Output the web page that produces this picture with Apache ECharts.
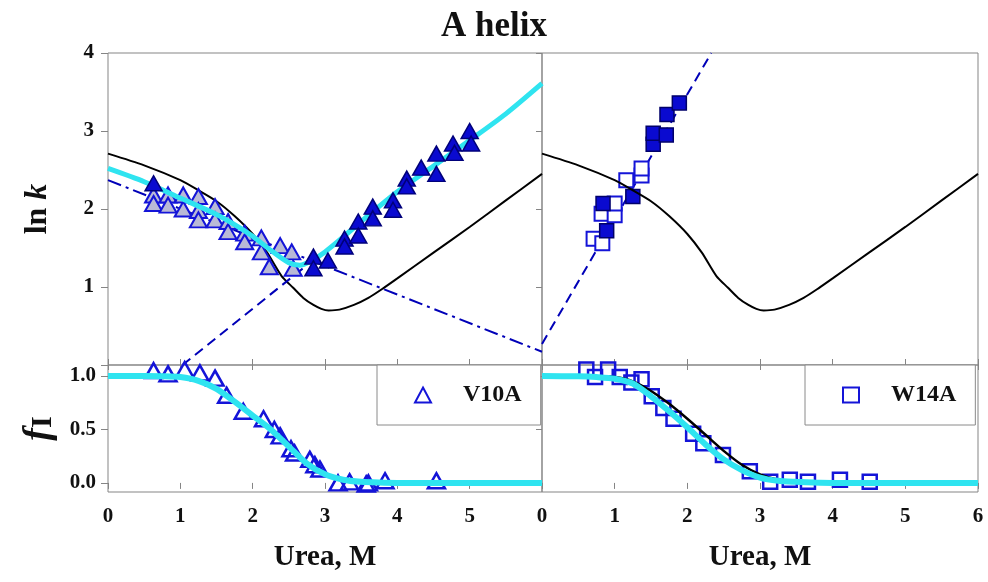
<!DOCTYPE html>
<html><head><meta charset="utf-8">
<script src="https://cdn.jsdelivr.net/npm/echarts@6/dist/echarts.min.js"></script>
<style>html,body{margin:0;padding:0;background:#fff}#c{width:988px;height:582px}</style>
</head><body><div id="c"></div>
<script>
const titleText = 'A helix';
const xName = 'Urea, M';
const xTickValues = [0, 1, 2, 3, 4, 5, 6];
const lnkTickValues = [0, 1, 2, 3, 4];
const fiTickValues = [0, 0.5, 1.0];

// ln k panels
const blackLnK = [[0,2.71],[0.5,2.56],[1.0,2.37],[1.25,2.24],[1.5,2.10],[1.75,1.91],[2.0,1.68],[2.2,1.44],[2.4,1.14],[2.56,0.99],[2.7,0.86],[2.84,0.77],[2.95,0.72],[3.05,0.70],[3.2,0.71],[3.4,0.77],[3.6,0.86],[3.8,0.98],[4.0,1.11],[4.5,1.44],[5.0,1.77],[5.5,2.11],[6.0,2.45]];
const cyanLnK_V10A = [[0,2.52],[0.5,2.35],[1.0,2.14],[1.5,1.93],[1.75,1.80],[2.0,1.65],[2.25,1.47],[2.5,1.31],[2.65,1.28],[2.8,1.33],[3.0,1.45],[3.25,1.64],[3.5,1.84],[4.0,2.22],[4.5,2.55],[5.0,2.88],[5.5,3.22],[6.0,3.61]];
const dashDot_V10A = [[0,2.37],[6,0.17]];
const dashed_V10A = [[1.03,0],[2.75,1.28]];
const dashed_W14A = [[0,0.27],[2.33,4.0]];
const v10aOpen = [[0.63,2.18],[0.63,2.07],[0.83,2.18],[0.83,2.05],[1.04,2.18],[1.04,2.0],[1.25,2.16],[1.25,1.98],[1.25,1.86],[1.48,2.03],[1.48,1.86],[1.66,1.84],[1.66,1.71],[1.89,1.69],[1.89,1.58],[2.12,1.63],[2.12,1.45],[2.23,1.26],[2.38,1.53],[2.54,1.45],[2.56,1.24]];
const v10aFilled = [[0.63,2.33],[2.84,1.39],[2.84,1.24],[3.04,1.34],[3.27,1.62],[3.27,1.52],[3.46,1.84],[3.46,1.66],[3.66,2.03],[3.66,1.88],[3.94,2.11],[3.94,1.99],[4.13,2.39],[4.13,2.29],[4.33,2.53],[4.54,2.71],[4.54,2.45],[4.77,2.84],[4.79,2.72],[5.0,3.0],[5.02,2.84]];
const w14aOpen = [[0.71,1.62],[0.83,1.56],[0.82,1.94],[1.0,1.92],[1.0,2.07],[1.16,2.37],[1.37,2.43],[1.37,2.52]];
const w14aFilled = [[0.84,2.07],[0.89,1.72],[1.25,2.16],[1.53,2.83],[1.53,2.97],[1.71,2.95],[1.72,3.21],[1.89,3.36]];

// fI panels
const fiV10A = [[0.63,1.05],[0.83,1.02],[1.06,1.06],[1.27,1.03],[1.48,0.98],[1.64,0.82],[1.87,0.67],[2.15,0.60],[2.3,0.5],[2.38,0.44],[2.53,0.32],[2.58,0.28],[2.79,0.22],[2.86,0.17],[2.93,0.13],[3.18,0.0],[3.34,0.01],[3.57,-0.01],[3.6,0.0],[3.83,0.02],[4.54,0.02]];
const fiW14A = [[0.61,1.06],[0.73,0.99],[0.91,1.06],[1.07,0.99],[1.23,0.94],[1.37,0.97],[1.51,0.81],[1.67,0.70],[1.81,0.60],[2.08,0.46],[2.22,0.37],[2.49,0.26],[2.86,0.11],[3.14,0.01],[3.41,0.03],[3.66,0.01],[4.10,0.03],[4.51,0.01]];
const fiCyanV10A = [[0,1],[0.5,1.0],[0.75,0.998],[1.0,0.99],[1.25,0.955],[1.5,0.88],[1.75,0.76],[2.0,0.63],[2.25,0.50],[2.5,0.34],[2.75,0.18],[3.0,0.08],[3.25,0.03],[3.5,0.01],[3.75,0.003],[4,0],[5,0],[6,0]];
const fiBlackV10A = [[0,1],[0.5,1.0],[0.75,0.998],[1.0,0.99],[1.25,0.96],[1.5,0.89],[1.75,0.775],[2.0,0.64],[2.25,0.50],[2.5,0.33],[2.75,0.17],[3.0,0.07],[3.25,0.025],[3.5,0.01],[3.75,0.003],[4,0],[5,0],[6,0]];
const fiCyanW14A = [[0,1],[0.5,0.997],[0.75,0.99],[1.0,0.975],[1.25,0.93],[1.5,0.81],[1.75,0.67],[2.0,0.52],[2.25,0.36],[2.5,0.22],[2.75,0.12],[3.0,0.05],[3.25,0.02],[3.5,0.01],[3.75,0.003],[4,0],[5,0],[6,0]];
const fiBlackW14A = [[0,1],[0.5,1.0],[0.75,0.997],[1.0,0.99],[1.25,0.95],[1.5,0.86],[1.75,0.74],[2.0,0.60],[2.25,0.45],[2.5,0.30],[2.75,0.17],[3.0,0.08],[3.25,0.03],[3.5,0.01],[3.75,0.003],[4,0],[5,0],[6,0]];

const FONT = "'Liberation Serif','Times New Roman',serif";
const BLUE = '#1414d8';
const DARKBLUE = '#0000b8';
const CYAN = '#2fe4f0';
const FRAME = '#858585';

const grids = [
  {left:108, top:53, width:434, height:312},
  {left:542, top:53, width:436, height:312},
  {left:108, top:365, width:434, height:127},
  {left:542, top:365, width:436, height:127}
].map(g => Object.assign({show:true, borderColor:FRAME, borderWidth:1, backgroundColor:'transparent'}, g));

const lbl = {fontFamily:FONT, fontWeight:'bold', fontSize:21, color:'#111'};

function xAx(gi, opts) {
  return Object.assign({
    type:'value', gridIndex:gi, min:0, max:6, interval:1,
    axisLine:{show:false}, splitLine:{show:false},
    axisTick:{show:true, inside:true, length:6, lineStyle:{color:FRAME}},
    axisLabel:{show:false}
  }, opts || {});
}
const xAxes = [
  xAx(0), xAx(1),
  xAx(2, {axisTick:{show:true, inside:false, length:6, lineStyle:{color:FRAME}},
    axisLabel:Object.assign({show:true, margin:14, formatter:v => v === 6 ? '' : String(v)}, lbl),
    name:xName, nameLocation:'middle', nameGap:51,
    nameTextStyle:{fontFamily:FONT, fontWeight:'bold', fontSize:29, color:'#111'}}),
  xAx(3, {axisTick:{show:true, inside:false, length:6, lineStyle:{color:FRAME}},
    axisLabel:Object.assign({show:true, margin:14, formatter:v => String(v)}, lbl),
    name:xName, nameLocation:'middle', nameGap:51,
    nameTextStyle:{fontFamily:FONT, fontWeight:'bold', fontSize:29, color:'#111'}}),
  xAx(2, {position:'top', axisTick:{show:true, inside:true, length:5, lineStyle:{color:FRAME}}}),
  xAx(3, {position:'top', axisTick:{show:true, inside:true, length:5, lineStyle:{color:FRAME}}})
];

const yAxes = [
  {type:'value', gridIndex:0, min:0, max:4, interval:1,
   axisLine:{show:false}, splitLine:{show:false},
   axisTick:{show:true, length:7, lineStyle:{color:FRAME}},
   axisLabel:Object.assign({margin:14, formatter:v => v === 0 ? '' : String(v)}, lbl),
   name:'{a|ln }{b|k}', nameLocation:'middle', nameRotate:90, nameGap:54,
   nameTextStyle:{rich:{a:{fontFamily:FONT, fontWeight:'bold', fontSize:32, color:'#111'}, b:{fontFamily:FONT, fontWeight:'bold', fontStyle:'italic', fontSize:32, color:'#111'}}}},
  {type:'value', gridIndex:1, min:0, max:4, interval:1,
   axisLine:{show:false}, splitLine:{show:false},
   axisTick:{show:true, length:6, lineStyle:{color:FRAME}},
   axisLabel:{show:false}},
  {type:'value', gridIndex:2, min:-0.085, max:1.103,
   axisLine:{show:false}, splitLine:{show:false},
   axisTick:{show:true, length:7, customValues:fiTickValues, lineStyle:{color:FRAME}},
   axisLabel:Object.assign({margin:12, customValues:fiTickValues, formatter:v => Number(v).toFixed(1)}, lbl),
   name:'{a|f}{b|I}', nameLocation:'middle', nameRotate:90, nameGap:50,
   nameTextStyle:{rich:{a:{fontFamily:FONT, fontWeight:'bold', fontStyle:'italic', fontSize:38, color:'#111'}, b:{fontFamily:FONT, fontWeight:'bold', fontSize:30, color:'#111', padding:[8,0,0,0]}}}},
  {type:'value', gridIndex:3, min:-0.085, max:1.103,
   axisLine:{show:false}, splitLine:{show:false},
   axisTick:{show:true, length:6, customValues:fiTickValues, lineStyle:{color:FRAME}},
   axisLabel:{show:false}}
];

function line(name, xi, yi, data, color, width, type, z, smooth) {
  return {type:'line', name, xAxisIndex:xi, yAxisIndex:yi, data, showSymbol:false, symbol:'none',
    smooth: smooth ? 0.25 : false,
    lineStyle:{color, width, type: type || 'solid'}, z: z || 2, silent:true, animation:false};
}
function pts(name, xi, yi, data, symbol, size, fill, border, bw, z) {
  return {type:'scatter', name, xAxisIndex:xi, yAxisIndex:yi, data, symbol, symbolSize:size,
    itemStyle:{color:fill, borderColor:border, borderWidth:bw, opacity:1}, z: z || 3, silent:true, animation:false};
}

const series = [
  // top-left
  line('blackL', 0, 0, blackLnK, '#000', 2, 'solid', 2, true),
  line('dashdotL', 0, 0, dashDot_V10A, DARKBLUE, 2, [14,5,3,5], 2),
  line('dashedL', 0, 0, dashed_V10A, DARKBLUE, 2, [10,6], 2),
  pts('v10aOpen', 0, 0, v10aOpen, 'triangle', [17,15], '#b9b9d6', BLUE, 2, 3),
  line('cyanL', 0, 0, cyanLnK_V10A, CYAN, 5, 'solid', 4, true),
  pts('v10aFilled', 0, 0, v10aFilled, 'triangle', [17,15], '#0a0ad0', '#00007a', 1.5, 5),
  // top-right
  line('dashedR', 1, 1, dashed_W14A, DARKBLUE, 2, [10,6], 2),
  pts('w14aOpen', 1, 1, w14aOpen, 'rect', 14, '#ffffff', BLUE, 2, 3),
  pts('w14aFilled', 1, 1, w14aFilled, 'rect', 14, '#0a0ad0', '#00006a', 1.5, 3),
  line('blackR', 1, 1, blackLnK, '#000', 2, 'solid', 4, true),
  // bottom-left
  pts('V10A', 2, 2, fiV10A, 'triangle', [17,15], 'rgba(255,255,255,0)', BLUE, 2.5, 3),
  line('fiBlackL', 2, 2, fiBlackV10A, '#000', 2, 'solid', 4, true),
  line('fiCyanL', 2, 2, fiCyanV10A, CYAN, 6, 'solid', 5, true),
  // bottom-right
  pts('W14A', 3, 3, fiW14A, 'rect', 14, 'rgba(255,255,255,0)', BLUE, 2.5, 3),
  line('fiBlackR', 3, 3, fiBlackW14A, '#000', 2.5, 'solid', 4, true),
  line('fiCyanR', 3, 3, fiCyanW14A, CYAN, 6, 'solid', 5, true)
];

function legendBox(name, left, icon) {
  return {data:[{name, icon}], left, top:365, orient:'horizontal', selectedMode:false,
    itemWidth:16, itemHeight:15, borderColor:'#8a8a8a', borderWidth:1, backgroundColor:'#fff',
    padding:[18,19,18,37],
    textStyle:{fontFamily:FONT, fontWeight:'bold', fontSize:24, color:'#111', padding:[0,0,0,27]}};
}

const chart = echarts.init(document.getElementById('c'), null, {renderer:'canvas'});
chart.setOption({
  animation:false,
  backgroundColor:'#fff',
  title:{text:titleText, left:'center', top:4, textStyle:{fontFamily:FONT, fontWeight:'bold', fontSize:35, color:'#111'}},
  legend:[legendBox('V10A', 377, 'triangle'), legendBox('W14A', 805, 'rect')],
  grid:grids,
  xAxis:xAxes,
  yAxis:yAxes,
  series
});
</script>
</body></html>
